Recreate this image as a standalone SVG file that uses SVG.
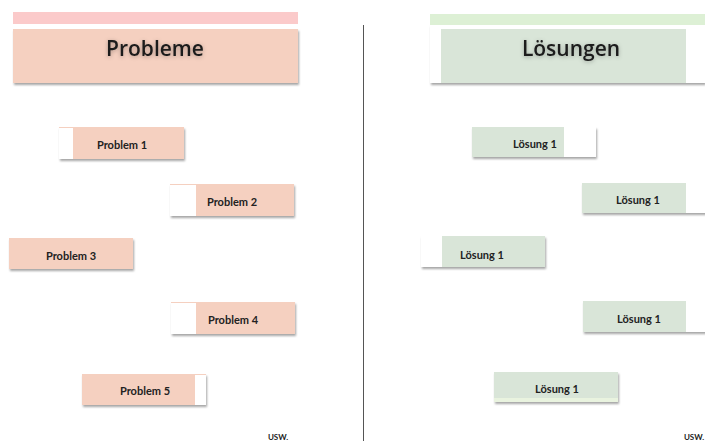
<svg xmlns="http://www.w3.org/2000/svg" width="705" height="441" viewBox="0 0 705 441">
<defs>
<filter id="sh" x="-10%" y="-20%" width="125%" height="160%">
<feDropShadow dx="1" dy="2" stdDeviation="1.3" flood-color="#000" flood-opacity="0.35"/>
</filter>
<filter id="glow" x="-20%" y="-40%" width="140%" height="180%">
<feDropShadow dx="0" dy="1" stdDeviation="2" flood-color="#000" flood-opacity="0.3"/>
</filter>
</defs>
<style>
.p{fill:#f5d0c0}
.g{fill:#d9e5d8}
.w{fill:#ffffff}
.lbl{font-family:Lato,"Open Sans","Liberation Sans",sans-serif;font-size:11px;font-weight:bold;fill:#222;text-anchor:middle;dominant-baseline:central}
.hd{font-family:"Open Sans",Lato,"Liberation Sans",sans-serif;font-size:21px;font-weight:600;fill:#1a1a1a;text-anchor:middle;dominant-baseline:central}
.usw{font-family:Lato,"Liberation Sans",sans-serif;font-size:8px;font-weight:bold;fill:#222;text-anchor:middle}
</style>
<rect width="705" height="441" fill="#fff"/>
<line x1="363.5" y1="25" x2="363.5" y2="441" stroke="#555" stroke-width="1"/>

<g id="hdr-probleme">
<rect x="13" y="12" width="285" height="12" fill="#fbcaca"/>
<rect x="13" y="29" width="285" height="54" class="p" filter="url(#sh)"/>
<text x="155" y="48" class="hd" filter="url(#glow)">Probleme</text>
</g>

<g id="hdr-loesungen">
<rect x="430" y="14" width="275" height="11" fill="#ddf0d5"/>
<rect x="430" y="25" width="275" height="58" class="w" filter="url(#sh)"/>
<rect x="441" y="29" width="245" height="54" class="g"/>
<text x="571" y="48" class="hd" filter="url(#glow)">Lösungen</text>
</g>

<g id="problem1">
<rect x="59" y="127" width="125" height="32" class="p" filter="url(#sh)"/>
<rect x="59" y="128" width="14" height="31" class="w"/>
<text x="122" y="144" class="lbl">Problem 1</text>
</g>
<g id="problem2">
<rect x="170" y="184" width="124" height="32" class="p" filter="url(#sh)"/>
<rect x="170" y="185" width="26" height="31" class="w"/>
<text x="232" y="201" class="lbl">Problem 2</text>
</g>
<g id="problem3">
<rect x="9" y="238" width="124" height="31" class="p" filter="url(#sh)"/>
<text x="71" y="255" class="lbl">Problem 3</text>
</g>
<g id="problem4">
<rect x="171" y="302" width="124" height="32" class="p" filter="url(#sh)"/>
<rect x="171" y="303" width="25" height="31" class="w"/>
<text x="233" y="319" class="lbl">Problem 4</text>
</g>
<g id="problem5">
<rect x="82" y="374" width="124" height="31" class="p" filter="url(#sh)"/>
<rect x="195" y="375" width="11" height="30" class="w"/>
<text x="145" y="390" class="lbl">Problem 5</text>
</g>
<text x="278" y="440" class="usw">USW.</text>

<g id="loesung1">
<rect x="472" y="127" width="124" height="30" class="g" filter="url(#sh)"/>
<rect x="564" y="127" width="32" height="30" class="w"/>
<text x="535" y="143" class="lbl">Lösung 1</text>
</g>
<g id="loesung2">
<rect x="582" y="183" width="130" height="30" class="g" filter="url(#sh)"/>
<rect x="686" y="183" width="26" height="30" class="w"/>
<text x="638" y="199" class="lbl">Lösung 1</text>
</g>
<g id="loesung3">
<rect x="421" y="236" width="124" height="31" class="g" filter="url(#sh)"/>
<rect x="421" y="236" width="21" height="31" class="w"/>
<text x="482" y="254" class="lbl">Lösung 1</text>
</g>
<g id="loesung4">
<rect x="583" y="301" width="130" height="31" class="g" filter="url(#sh)"/>
<rect x="686" y="301" width="26" height="31" class="w"/>
<text x="639" y="318" class="lbl">Lösung 1</text>
</g>
<g id="loesung5">
<rect x="494" y="372" width="124" height="30" class="g" filter="url(#sh)"/>
<rect x="494" y="398" width="124" height="4" fill="#e9f3df"/>
<text x="557" y="388" class="lbl">Lösung 1</text>
</g>
<text x="694" y="440" class="usw">USW.</text>
<g id="connectors"/>
</svg>
